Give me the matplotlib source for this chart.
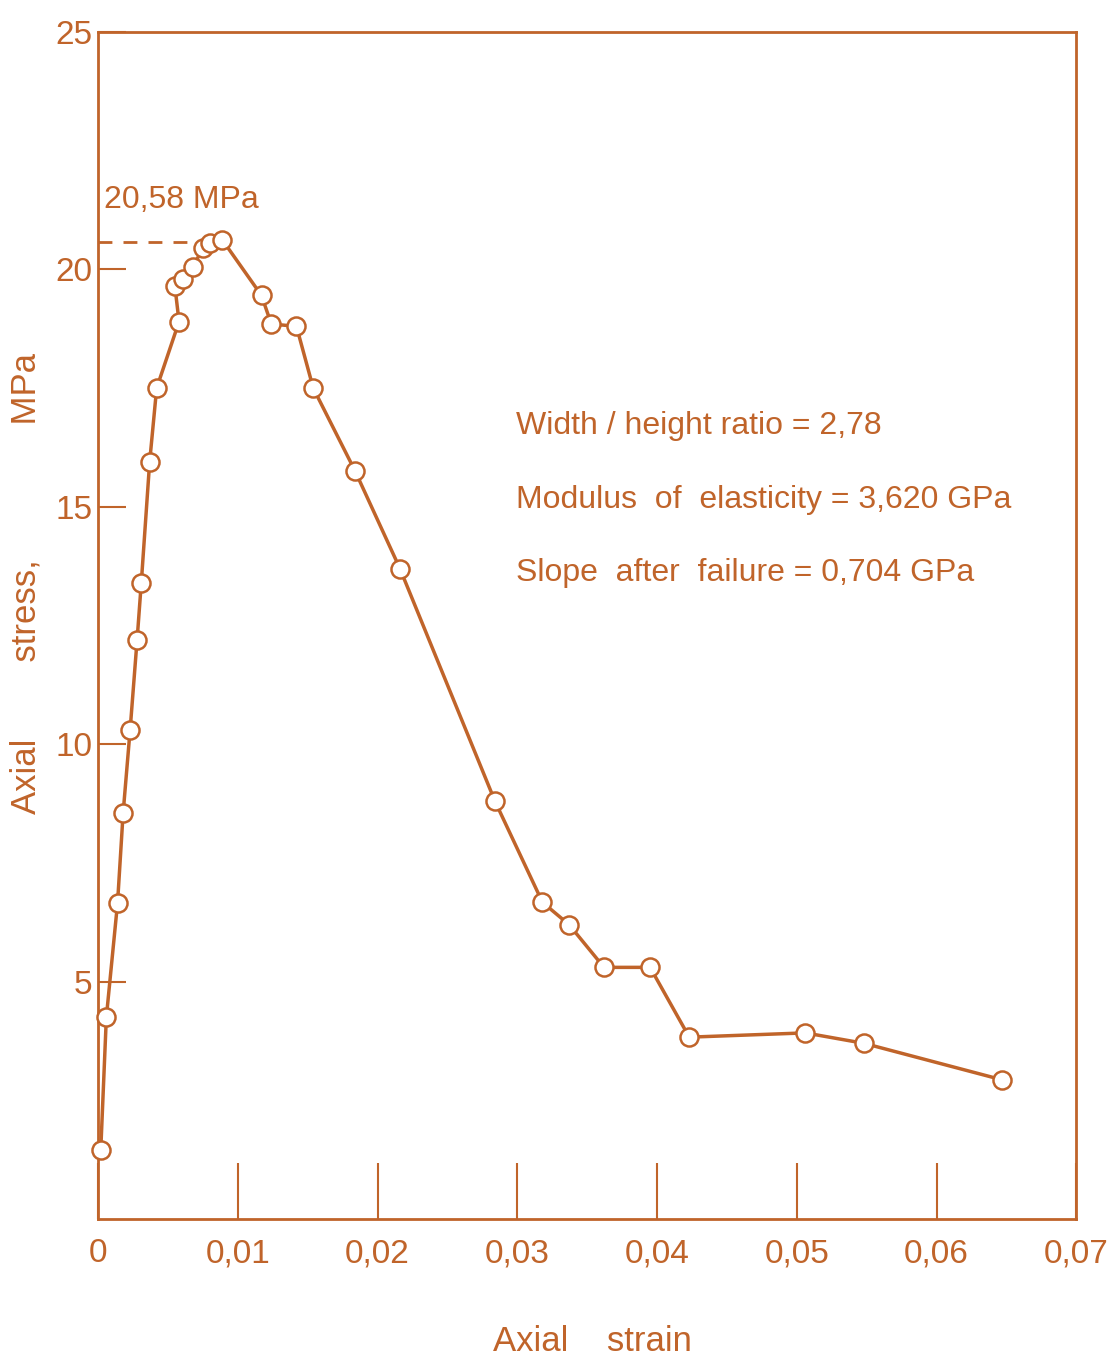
import matplotlib.pyplot as plt

# cor da tinta do desenho
cor = '#c0642a'

# deformação axial e tensão axial (MPa)
strain = [0.0002, 0.0006, 0.0014, 0.0018, 0.0023, 0.0028, 0.0031, 0.0037, 0.0042,
          0.0058, 0.0055, 0.0061, 0.0068, 0.0075, 0.0080, 0.0089,
          0.0117, 0.0124, 0.0142, 0.0154, 0.0184, 0.0216, 0.0284,
          0.0318, 0.0337, 0.0362, 0.0395, 0.0423, 0.0506, 0.0548, 0.0647]
stress = [1.45, 4.25, 6.65, 8.55, 10.3, 12.2, 13.4, 15.95, 17.5,
          18.9, 19.65, 19.8, 20.05, 20.45, 20.55, 20.62,
          19.45, 18.85, 18.8, 17.5, 15.75, 13.7, 8.8,
          6.67, 6.2, 5.3, 5.3, 3.83, 3.92, 3.7, 2.93]

pico = 20.58
x_ticks = [0, 0.01, 0.02, 0.03, 0.04, 0.05, 0.06, 0.07]
x_labels = ['0', '0,01', '0,02', '0,03', '0,04', '0,05', '0,06', '0,07']
y_ticks = [5, 10, 15, 20, 25]
y_labels = ['5', '10', '15', '20', '25']
info = ['Width / height ratio = 2,78',
        'Modulus  of  elasticity = 3,620 GPa',
        'Slope  after  failure = 0,704 GPa']

plt.rcParams['font.family'] = ['Liberation Sans', 'DejaVu Sans']

fig = plt.figure(figsize=(11.17, 13.66), dpi=100)
ax = fig.add_axes([0.0877, 0.1076, 0.876, 0.869])

ax.plot(strain, stress, '-', color=cor, lw=2.5, marker='o', ms=13,
        mfc='white', mec=cor, mew=1.8, zorder=3, clip_on=False)

# linha tracejada até o pico
ax.plot([0, 0.0085], [pico, pico], '--', color=cor, lw=2, dashes=(5, 4))
ax.text(0.0004, 21.15, '20,58 MPa', color=cor, fontsize=23, va='bottom', ha='left')

for i, t in enumerate(info):
    ax.text(0.0299, 16.7 - i * 1.55, t, color=cor, fontsize=23, va='center', ha='left')

ax.set_xlim(0, 0.07)
ax.set_ylim(0, 25)
ax.set_xticks(x_ticks)
ax.set_xticklabels(x_labels)
ax.set_yticks(y_ticks)
ax.set_yticklabels(y_labels)
ax.tick_params(axis='x', direction='in', length=40, width=1.5, color=cor,
               labelcolor=cor, labelsize=24, pad=14)
ax.tick_params(axis='y', direction='in', length=20, width=1.5, color=cor,
               labelcolor=cor, labelsize=24, pad=4)
for s in ax.spines.values():
    s.set_color(cor)
    s.set_linewidth(2)

ax.set_xlabel('Axial    strain', color=cor, fontsize=25)
ax.set_ylabel('Axial        stress,              MPa', color=cor, fontsize=25)
ax.xaxis.set_label_coords(0.505, -0.089)
ax.yaxis.set_label_coords(-0.057, 0.535)

plt.savefig('out.png', dpi=100)
